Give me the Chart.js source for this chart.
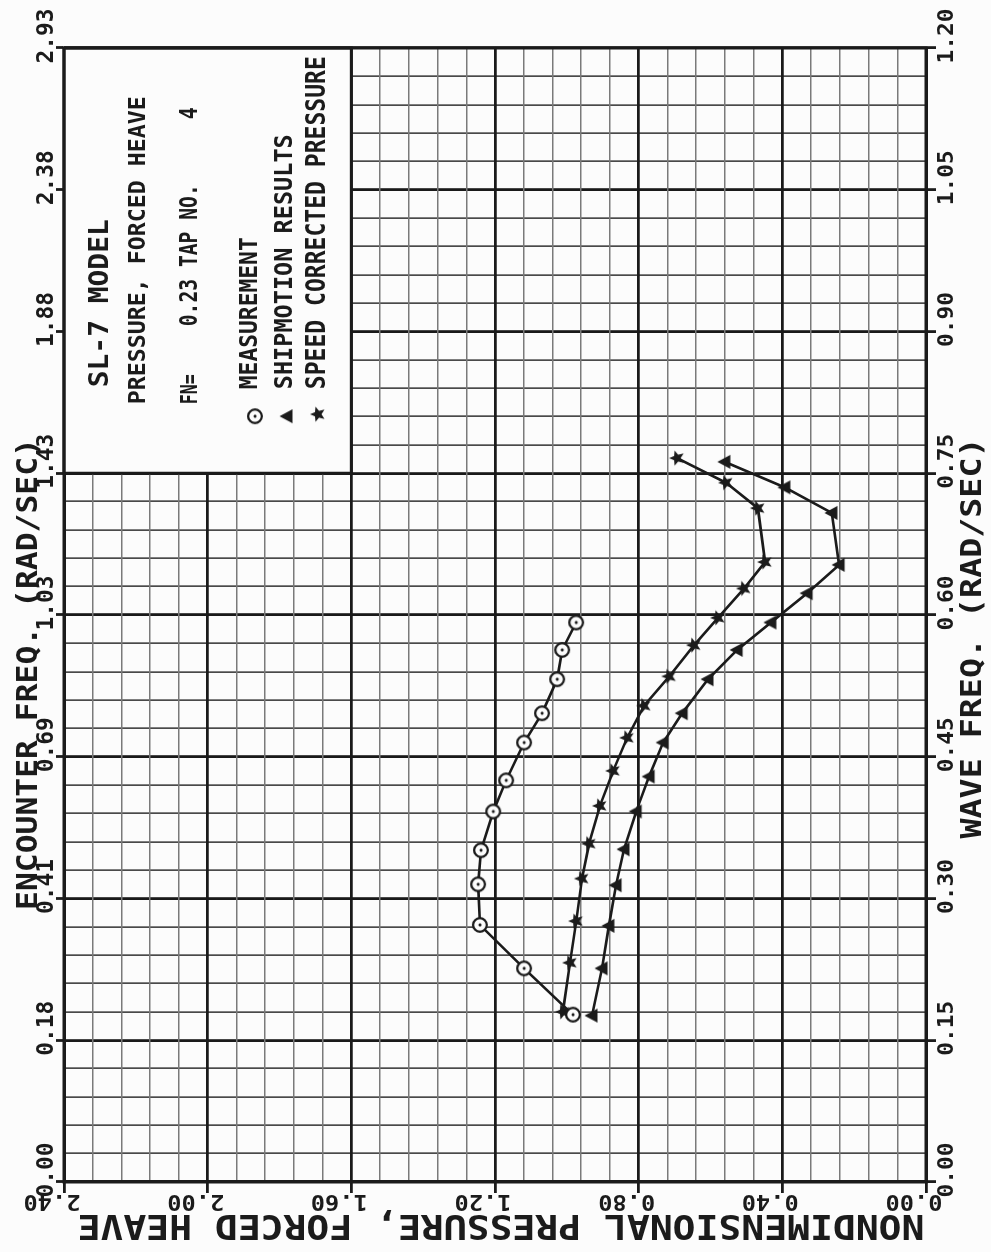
<!DOCTYPE html>
<html>
<head>
<meta charset="utf-8">
<title>SL-7 Model - Pressure, Forced Heave</title>
<script src="https://cdn.jsdelivr.net/npm/chart.js@4.4.0/dist/chart.umd.min.js"></script>
<style>
    html, body { margin: 0; padding: 0; background: #fcfcfc; overflow: hidden; }
    #page { position: relative; width: 991px; height: 1252px; }
    /* the plot is drawn landscape and turned a quarter turn, like the original plotter sheet */
    #chart { position: absolute; left: 0; top: 0; transform-origin: 0 0; transform: translate(0px, 1252px) rotate(-90deg); }
</style>
</head>
<body>
<div id="page"><canvas id="chart" width="1252" height="991"></canvas></div>
<script>
// Measurement (circles)
const measFreq = [0.177, 0.226, 0.272, 0.315, 0.351, 0.392, 0.425, 0.465, 0.496, 0.532, 0.563, 0.592];
const measPressure = [0.983, 1.119, 1.242, 1.247, 1.239, 1.205, 1.169, 1.119, 1.069, 1.027, 1.013, 0.974];

// Shipmotion results (triangles)
const shipFreq = [0.176, 0.226, 0.271, 0.314, 0.352, 0.392, 0.429, 0.465, 0.496, 0.532, 0.563, 0.592, 0.623, 0.653, 0.708, 0.735, 0.762];
const shipPressure = [0.930, 0.902, 0.883, 0.863, 0.841, 0.807, 0.771, 0.732, 0.679, 0.607, 0.526, 0.432, 0.331, 0.242, 0.262, 0.393, 0.560];

// Speed corrected pressure (stars)
const corrFreq = [0.180, 0.232, 0.276, 0.321, 0.358, 0.398, 0.435, 0.470, 0.504, 0.535, 0.568, 0.597, 0.628, 0.656, 0.713, 0.740, 0.766];
const corrPressure = [1.011, 0.991, 0.974, 0.958, 0.938, 0.908, 0.871, 0.832, 0.785, 0.715, 0.646, 0.579, 0.507, 0.448, 0.468, 0.557, 0.693];

// axes
const waveTicks = [0, 0.15, 0.30, 0.45, 0.60, 0.75, 0.90, 1.05, 1.20];
const waveTickLabels = ['0.00', '0.15', '0.30', '0.45', '0.60', '0.75', '0.90', '1.05', '1.20'];
const encounterTickLabels = ['0.00', '0.18', '0.41', '0.69', '1.03', '1.43', '1.88', '2.38', '2.93'];
const pressureTicks = [0, 0.40, 0.80, 1.20, 1.60, 2.00, 2.40];
const pressureTickLabels = ['0.00', '0.40', '0.80', '1.20', '1.60', '2.00', '2.40'];

const INK = '#1b1b1b';

const isMajor = (v, step) => Math.abs(v / step - Math.round(v / step)) < 1e-6;

const stepTicks = (max, step) => {
    const out = [];
    const n = Math.round(max / step);
    for (let i = 0; i <= n; i++) out.push({ value: +(i * step).toFixed(4) });
    return out;
};

// marker images
const makeMarker = (kind) => {
    const c = document.createElement('canvas');
    c.width = 20; c.height = 20;
    const g = c.getContext('2d');
    g.translate(10, 10);
    g.fillStyle = INK;
    g.strokeStyle = INK;
    if (kind === 'circle') {
        g.beginPath(); g.arc(0, 0, 6.8, 0, Math.PI * 2);
        g.fillStyle = '#fcfcfc'; g.fill();
        g.lineWidth = 2.3; g.stroke();
        g.beginPath(); g.arc(0, 0, 1.6, 0, Math.PI * 2);
        g.fillStyle = INK; g.fill();
    } else if (kind === 'triangle') {
        g.beginPath();
        g.moveTo(0, -7.5); g.lineTo(7, 5.5); g.lineTo(-7, 5.5);
        g.closePath(); g.fill();
    } else {
        g.beginPath();
        for (let i = 0; i < 10; i++) {
            const r = i % 2 === 0 ? 8 : 3.6;
            const a = -Math.PI / 2 + i * Math.PI / 5;
            g.lineTo(r * Math.cos(a), r * Math.sin(a));
        }
        g.closePath(); g.fill();
    }
    return c;
};
const circleMark = makeMarker('circle');
const triangleMark = makeMarker('triangle');
const starMark = makeMarker('star');

// plotter style lettering: bold mono squeezed to the measured width
const plotText = (ctx, str, x, y, cap, width, align, rot) => {
    ctx.save();
    ctx.font = 'bold ' + (cap / 0.73).toFixed(1) + 'px "DejaVu Sans Mono"';
    const natural = ctx.measureText(str).width;
    ctx.translate(x, y);
    if (rot) ctx.rotate(rot);
    ctx.scale(width / natural, 1);
    ctx.textAlign = align;
    ctx.textBaseline = 'alphabetic';
    ctx.fillStyle = INK;
    ctx.fillText(str, 0, 0);
    ctx.restore();
};

const legendBox = {
    id: 'legendBox',
    beforeDatasetsDraw(chart) {
        const { ctx, chartArea: a, scales } = chart;
        const left = scales.x.getPixelForValue(0.75);
        const bottom = scales.y.getPixelForValue(1.6);
        ctx.save();
        ctx.fillStyle = '#fcfcfc';
        ctx.fillRect(left, a.top, a.right - left, bottom - a.top);
        ctx.strokeStyle = INK;
        ctx.lineWidth = 3;
        ctx.strokeRect(left, a.top, a.right - left, bottom - a.top);
        ctx.strokeRect(a.left, a.top, a.right - a.left, a.bottom - a.top);
        ctx.restore();
    },
    afterDraw(chart) {
        const { ctx, chartArea: a, scales } = chart;
        const bl = scales.x.getPixelForValue(0.75);
        const t = a.top;
        plotText(ctx, 'SL-7 MODEL', bl + 86, t + 44, 20, 168, 'left');
        plotText(ctx, 'PRESSURE, FORCED HEAVE', bl + 69, t + 81, 17, 308, 'left');
        plotText(ctx, 'FN=', bl + 69, t + 133, 17, 30, 'left');
        plotText(ctx, '0.23 TAP NO.', bl + 147, t + 133, 18, 142, 'left');
        plotText(ctx, '4', bl + 354, t + 133, 18, 12, 'left');
        ctx.drawImage(circleMark, bl + 57 - 10, t + 191 - 10);
        plotText(ctx, 'MEASUREMENT', bl + 84, t + 193, 18, 152, 'left');
        ctx.drawImage(triangleMark, bl + 57 - 10, t + 223 - 10);
        plotText(ctx, 'SHIPMOTION RESULTS', bl + 84, t + 228, 18, 255, 'left');
        ctx.drawImage(starMark, bl + 59 - 10, t + 254 - 10);
        plotText(ctx, 'SPEED CORRECTED PRESSURE', bl + 84, t + 261, 19, 333, 'left');
    }
};

const axisText = {
    id: 'axisText',
    afterDraw(chart) {
        const { ctx, chartArea: a, scales } = chart;
        waveTicks.forEach((v, i) => {
            const px = scales.x.getPixelForValue(v);
            plotText(ctx, waveTickLabels[i], px + 12, a.bottom + 27, 15, 55, 'center');
            plotText(ctx, encounterTickLabels[i], px + 12, a.top - 11, 17, 55, 'center');
        });
        pressureTicks.forEach((v, i) => {
            const py = scales.y.getPixelForValue(v);
            plotText(ctx, pressureTickLabels[i], a.left - 13, py - 12, 15, 57, 'center', -Math.PI / 2);
        });
        plotText(ctx, 'WAVE FREQ. (RAD/SEC)', a.left + 544, a.bottom + 55, 21, 401, 'center');
        plotText(ctx, 'ENCOUNTER FREQ. (RAD/SEC)', a.left + 508, a.top - 27, 21, 472, 'center');
        plotText(ctx, 'NONDIMENSIONAL PRESSURE, FORCED HEAVE', a.left - 33, a.top + 437, 25, 847, 'center', -Math.PI / 2);
    }
};

const series = (xs, ys) => xs.map((v, i) => ({ x: v, y: ys[i] }));

const lineStyle = {
    showLine: true,
    borderColor: INK,
    borderWidth: 2.6,
    tension: 0,
    fill: false
};

new Chart(document.getElementById('chart'), {
    type: 'scatter',
    data: {
        datasets: [
            { label: 'MEASUREMENT', data: series(measFreq, measPressure), pointStyle: circleMark, ...lineStyle },
            { label: 'SHIPMOTION RESULTS', data: series(shipFreq, shipPressure), pointStyle: triangleMark, ...lineStyle },
            { label: 'SPEED CORRECTED PRESSURE', data: series(corrFreq, corrPressure), pointStyle: starMark, ...lineStyle }
        ]
    },
    options: {
        responsive: false,
        animation: false,
        devicePixelRatio: 1,
        events: [],
        layout: { padding: { left: 0, right: 48, top: 0, bottom: 0 } },
        plugins: { legend: { display: false }, tooltip: { enabled: false } },
        scales: {
            x: {
                type: 'linear', position: 'bottom', min: 0, max: 1.2,
                afterBuildTicks: (s) => { s.ticks = stepTicks(1.2, 0.03); },
                afterFit: (s) => { s.height = 65; },
                ticks: { display: false },
                border: { display: true, color: INK, width: 3 },
                grid: {
                    color: (c) => isMajor(c.tick.value, 0.15) ? '#1a1a1a' : '#4a4a4a',
                    lineWidth: (c) => isMajor(c.tick.value, 0.15) ? 2.8 : 1.7,
                    tickColor: (c) => isMajor(c.tick.value, 0.15) ? INK : 'rgba(0,0,0,0)',
                    tickWidth: 2.8,
                    tickLength: 10
                }
            },
            x2: {
                type: 'linear', position: 'top', min: 0, max: 1.2,
                afterBuildTicks: (s) => { s.ticks = waveTicks.map(v => ({ value: v })); },
                afterFit: (s) => { s.height = 64; },
                ticks: { display: false },
                border: { display: true, color: INK, width: 3 },
                grid: { drawOnChartArea: false, tickColor: INK, tickWidth: 2.8, tickLength: 8 }
            },
            y: {
                type: 'linear', position: 'left', min: 0, max: 2.4,
                afterBuildTicks: (s) => { s.ticks = stepTicks(2.4, 0.08); },
                afterFit: (s) => { s.width = 70; },
                ticks: { display: false },
                border: { display: true, color: INK, width: 3 },
                grid: {
                    color: (c) => isMajor(c.tick.value, 0.4) ? '#1a1a1a' : '#7a7a7a',
                    lineWidth: (c) => isMajor(c.tick.value, 0.4) ? 2.8 : 1.4,
                    tickColor: (c) => isMajor(c.tick.value, 0.4) ? INK : 'rgba(0,0,0,0)',
                    tickWidth: 2.8,
                    tickLength: 11
                }
            }
        }
    },
    plugins: [legendBox, axisText]
});
</script>
</body>
</html>
